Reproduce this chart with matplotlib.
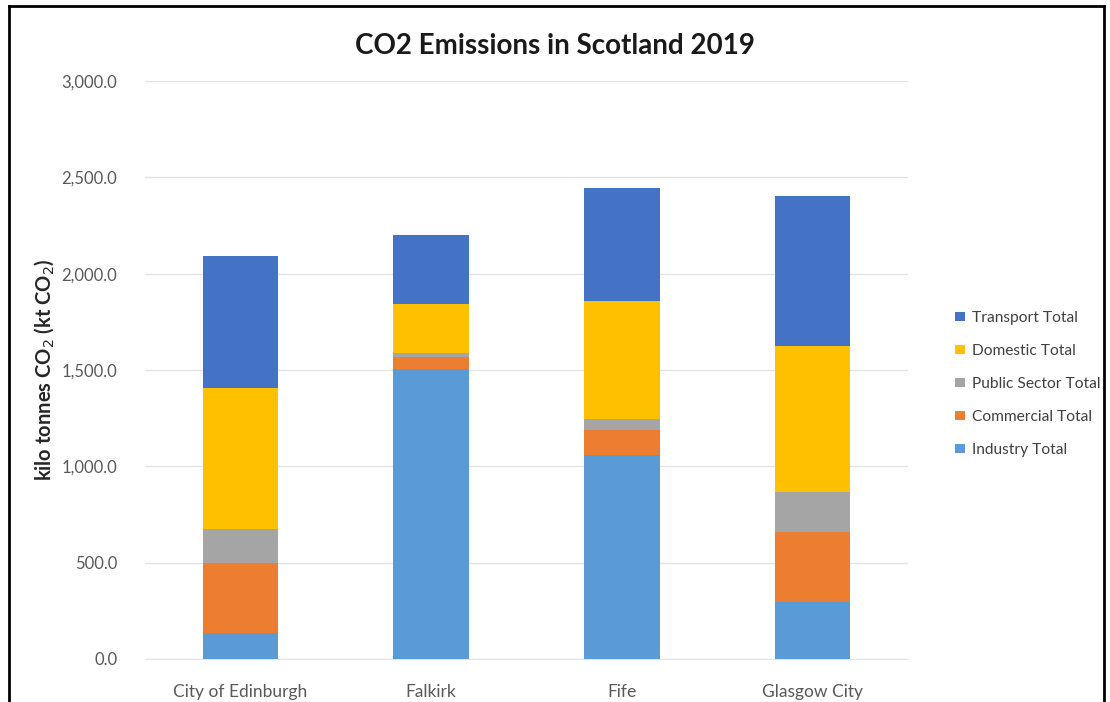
import matplotlib
matplotlib.use("Agg")
import matplotlib.pyplot as plt
from matplotlib.lines import Line2D
from matplotlib.ticker import FuncFormatter

plt.rcParams['font.family'] = ['Lato', 'DejaVu Sans']

# Data (kt CO2)
areas = ["City of Edinburgh", "Falkirk", "Fife", "Glasgow City"]
industry = [135, 1505, 1059, 296]
commercial = [363, 62, 130, 363]
public_sector = [177, 21, 57, 208]
domestic = [732, 255, 612, 757]
transport = [685, 358, 587, 779]

series_names = ["Industry Total", "Commercial Total", "Public Sector Total",
                "Domestic Total", "Transport Total"]
series_values = [industry, commercial, public_sector, domestic, transport]
series_colors = ["#5B9BD5", "#ED7D31", "#A5A5A5", "#FFC000", "#4472C4"]

fig = plt.figure(figsize=(11.1, 7.02), dpi=100)
ax = fig.add_axes([0.1306, 0.0613, 0.6874, 0.8233])

x = list(range(len(areas)))
bottoms = [0] * len(areas)
handles = []
for name, vals, col in zip(series_names, series_values, series_colors):
    bars = ax.bar(x, vals, width=0.395, bottom=bottoms, color=col, label=name, zorder=3)
    handles.append(bars)
    bottoms = [b + v for b, v in zip(bottoms, vals)]

ax.set_ylim(0, 3000)
ax.set_xlim(-0.5, len(areas) - 0.5)
ax.set_yticks(range(0, 3001, 500))
ax.yaxis.set_major_formatter(FuncFormatter(lambda v, p: f"{v:,.1f}"))
ax.set_xticks(x)
ax.set_xticklabels(areas)
ax.tick_params(axis='x', length=0, labelsize=12.5, colors="#595959", pad=18)
ax.tick_params(axis='y', length=0, labelsize=12, colors="#595959", pad=20)
ax.grid(axis='y', color="#E4E4E4", linewidth=1, zorder=0)
for side in ["top", "right", "left"]:
    ax.spines[side].set_visible(False)
ax.spines["bottom"].set_color("#E4E4E4")

ax.set_ylabel("kilo tonnes CO$_2$ (kt CO$_2$)", fontsize=14.5, fontweight="bold",
              color="#262626", labelpad=4)

fig.text(0.5, 0.935, "CO2 Emissions in Scotland 2019", ha="center", va="center",
         fontsize=20, fontweight="bold", color="#1a1a1a")

leg = fig.legend(handles[::-1], series_names[::-1], loc="center left",
                 bbox_to_anchor=(0.855, 0.453), frameon=False, fontsize=11.2,
                 handlelength=0.6, handleheight=0.6, handletextpad=0.45,
                 labelspacing=1.22, labelcolor="#404040", borderaxespad=0)

# Outer frame
fig.add_artist(Line2D([0.008, 0.008], [0.0, 0.991], transform=fig.transFigure,
                      color="black", linewidth=2))
fig.add_artist(Line2D([0.008, 0.995], [0.991, 0.991], transform=fig.transFigure,
                      color="black", linewidth=2))
fig.add_artist(Line2D([0.995, 0.995], [0.0, 0.991], transform=fig.transFigure,
                      color="black", linewidth=2))

fig.savefig("out.png", dpi=100)
